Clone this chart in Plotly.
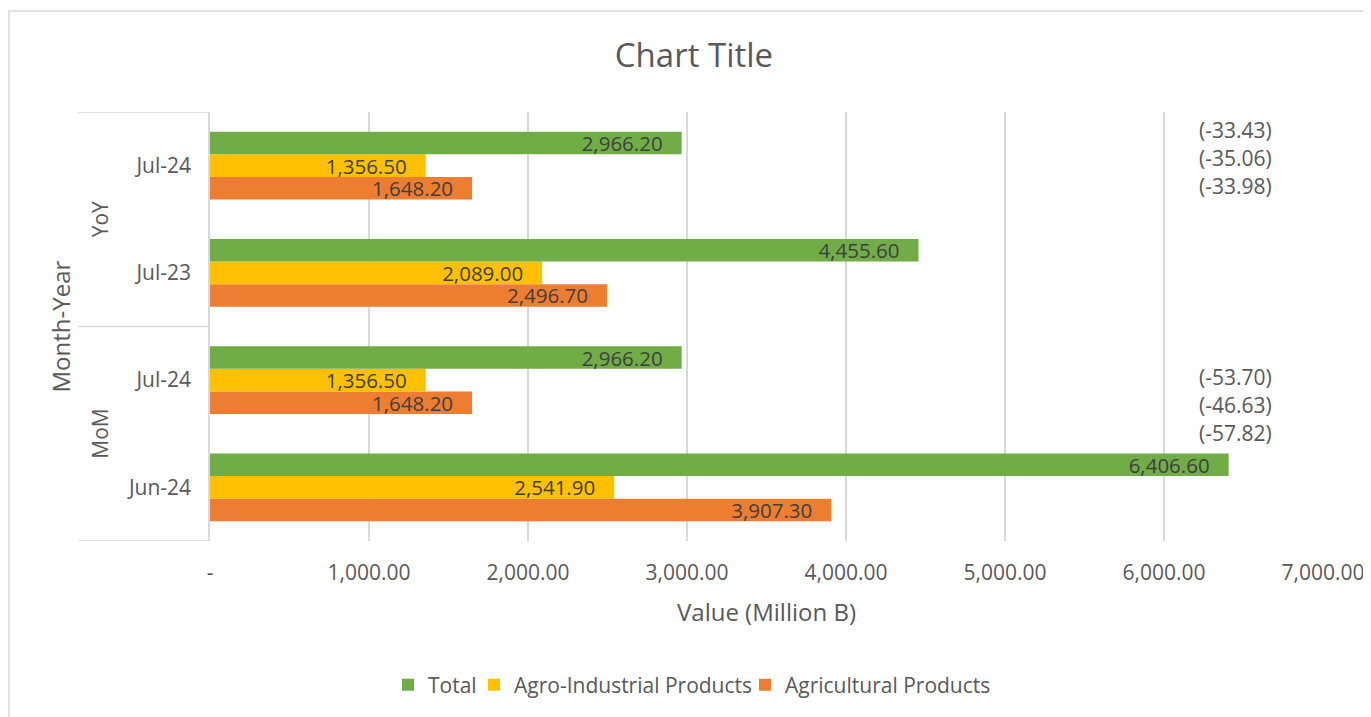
import plotly.graph_objects as go

# ---- data ----
groups = ["YoY", "YoY", "MoM", "MoM"]
months = ["Jul-24", "Jul-23", "Jul-24", "Jun-24"]          # top to bottom
total = [2966.20, 4455.60, 2966.20, 6406.60]
agro_industrial = [1356.50, 2089.00, 1356.50, 2541.90]
agricultural = [1648.20, 2496.70, 1648.20, 3907.30]
pct_yoy = ["(-33.43)", "(-35.06)", "(-33.98)"]
pct_mom = ["(-53.70)", "(-46.63)", "(-57.82)"]
x_tickvals = [0, 1000, 2000, 3000, 4000, 5000, 6000, 7000]
x_ticktext = ["-", "1,000.00", "2,000.00", "3,000.00", "4,000.00",
              "5,000.00", "6,000.00", "7,000.00"]

n = len(months)
ypos = [n - 1 - i for i in range(n)]  # first item at top

GREEN, YELLOW, ORANGE = "#70AD47", "#FFC000", "#ED7D31"
TXT = "#595959"
FONT = "Open Sans"

# plot-area geometry (figure pixels)
L, T, PW, PH = 202, 104, 1113, 429
W, H = 1371, 717

fig = go.Figure()
for name, vals, col, lw in [("Agricultural Products", agricultural, ORANGE, 210),
                            ("Agro-Industrial Products", agro_industrial, YELLOW, 226),
                            ("Total", total, GREEN, 41)]:
    fig.add_trace(go.Bar(
        name=name, x=vals, y=ypos, orientation="h",
        marker=dict(color=col, line=dict(width=0)),
        texttemplate="%{x:,.2f}\u00a0\u00a0\u00a0", textposition="inside",
        insidetextanchor="end", constraintext="none",
        textfont=dict(family=FONT, size=20.5, color="#404040"),
        hoverinfo="x+name", legendwidth=lw,
    ))

def px_x(sx):  # screen x -> paper
    return (sx - 8 - L) / PW

def px_y(sy):  # screen y -> paper
    return (T + PH - (sy - 8)) / PH

ann = []
line_step = 0.26
for lbls, gi in [(pct_yoy, 0), (pct_mom, 2)]:
    base = ypos[gi] + 0.33 if gi == 0 else ypos[gi] + 0.03
    for k, t in enumerate(lbls):
        ann.append(dict(text=t, x=0.921, xref="paper", y=base - k * line_step,
                        yref="y", showarrow=False, xanchor="center", yanchor="middle",
                        font=dict(family=FONT, size=21, color=TXT)))

for g, (a, b) in [("YoY", (ypos[0], ypos[1])), ("MoM", (ypos[2], ypos[3]))]:
    ann.append(dict(text=g, x=px_x(100), xref="paper", y=(a + b) / 2, yref="y",
                    showarrow=False, textangle=-90, xanchor="center", yanchor="middle",
                    font=dict(family=FONT, size=21, color=TXT)))
ann.append(dict(text="Month-Year", x=px_x(60), xref="paper",
                y=(ypos[0] + ypos[-1]) / 2, yref="y", showarrow=False,
                textangle=-90, xanchor="center", yanchor="middle",
                font=dict(family=FONT, size=24, color=TXT)))

shapes = []
for yv in [n - 0.5, (ypos[1] + ypos[2]) / 2, -0.5]:
    shapes.append(dict(type="line", xref="paper", yref="y", x0=px_x(78), x1=0,
                       y0=yv, y1=yv, line=dict(color="#D9D9D9", width=1.5)))
shapes.append(dict(type="rect", xref="paper", yref="paper",
                   x0=px_x(9), x1=px_x(1420), y0=px_y(760), y1=px_y(11),
                   line=dict(color="#D9D9D9", width=1.5)))

fig.update_layout(
    width=W, height=H,
    margin=dict(l=L, r=W - L - PW, t=T, b=H - T - PH),
    paper_bgcolor="white", plot_bgcolor="white",
    barmode="group", bargap=0.37, bargroupgap=0,
    font=dict(family=FONT, color=TXT),
    title=dict(text="Chart Title", x=(694 - 8) / W, xref="container",
               y=1 - (55 - 8) / H, yref="container", xanchor="center", yanchor="middle",
               font=dict(family=FONT, size=33, color=TXT)),
    xaxis=dict(range=[0, 7000], tickvals=x_tickvals, ticktext=x_ticktext,
               showgrid=True, gridcolor="#D9D9D9", gridwidth=1.5, zeroline=False,
               showline=False, ticks="", ticklabelstandoff=17,
               tickfont=dict(family=FONT, size=21, color=TXT),
               title=dict(text="Value (Million B)", standoff=19,
                          font=dict(family=FONT, size=24, color=TXT))),
    yaxis=dict(range=[-0.5, n - 0.5], tickvals=ypos, ticktext=months,
               showgrid=False, zeroline=False, showline=True, linecolor="#D9D9D9",
               linewidth=1.5, ticks="", ticklabelstandoff=13,
               tickfont=dict(family=FONT, size=21, color=TXT)),
    legend=dict(orientation="h", traceorder="reversed", x=px_x(694), xanchor="center",
                y=px_y(685), yanchor="middle",
                font=dict(family=FONT, size=21, color=TXT)),
    annotations=ann, shapes=shapes,
)

fig.write_html("out.html")
